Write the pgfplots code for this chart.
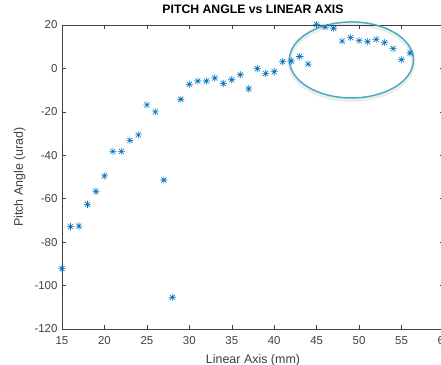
\documentclass[border=0pt]{standalone}
\usepackage{pgfplots}
\pgfplotsset{compat=1.18}
\usepackage{fontspec}
\setmainfont{Liberation Sans}
\definecolor{mblue}{RGB}{0,114,189}
\definecolor{axgray}{RGB}{64,64,64}
\definecolor{ell}{RGB}{75,172,198}
\pgfdeclareplotmark{mstar}{%
 \pgfpathmoveto{\pgfqpoint{-\pgfplotmarksize}{0pt}}\pgfpathlineto{\pgfqpoint{\pgfplotmarksize}{0pt}}%
 \pgfpathmoveto{\pgfqpoint{0pt}{-\pgfplotmarksize}}\pgfpathlineto{\pgfqpoint{0pt}{\pgfplotmarksize}}%
 \pgfpathmoveto{\pgfqpoint{-0.707\pgfplotmarksize}{-0.707\pgfplotmarksize}}\pgfpathlineto{\pgfqpoint{0.707\pgfplotmarksize}{0.707\pgfplotmarksize}}%
 \pgfpathmoveto{\pgfqpoint{-0.707\pgfplotmarksize}{0.707\pgfplotmarksize}}\pgfpathlineto{\pgfqpoint{0.707\pgfplotmarksize}{-0.707\pgfplotmarksize}}%
 \pgfusepathqstroke}
\begin{document}
\begin{tikzpicture}
\begin{axis}[
  name=ax,
  at={(0,0)}, anchor=south west,
  scale only axis,
  width=382bp, height=304bp,
  xmin=15, xmax=60, ymin=-120, ymax=20,
  xtick={15,20,...,60}, ytick={-120,-100,...,20},
  tick align=inside,
  major tick length=4bp,
  clip=false,
  axis line style={axgray, line width=0.5bp},
  every tick/.style={axgray, line width=0.5bp},
  tick label style={font=\fontsize{11.5}{13}\selectfont, text=axgray},
  /pgf/number format/assume math mode=true,
  yticklabel style={xshift=-1bp},
  xticklabel style={yshift=-4bp},
  title={PITCH ANGLE vs LINEAR AXIS},
  title style={font=\bfseries\fontsize{12.3}{14}\selectfont, at={(0.5,1)}, anchor=base, yshift=6bp},
  xlabel={Linear Axis (mm)},
  ylabel={Pitch Angle (urad)},
  label style={font=\fontsize{12.5}{14}\selectfont, text=axgray},
  xlabel style={at={(axis description cs:0.5,0)}, anchor=base, yshift=-34bp},
  ylabel style={at={(axis description cs:0,0.5)}, anchor=base, yshift=39bp},
]
\addplot[only marks, mark=mstar, mark size=3.6bp, mblue, line width=0.6bp] coordinates {
(15,-92.2) (16,-72.9) (17,-72.6) (18,-62.6) (19,-56.6) (20,-49.5)
(21,-38.2) (22,-38.2) (23,-33.1) (24,-30.6) (25,-16.8) (26,-20.0)
(27,-51.4) (28,-105.4) (29,-14.2) (30,-7.3) (31,-5.8) (32,-5.8)
(33,-4.4) (34,-6.9) (35,-5.2) (36,-2.9) (37,-9.4) (38,-0.1)
(39,-2.3) (40,-1.5) (41,3.1) (42,3.4) (43,5.5) (44,2.0)
(45,20.2) (46,19.1) (47,18.5) (48,12.6) (49,14.2) (50,12.8)
(51,12.3) (52,13.4) (53,11.9) (54,9.1) (55,4.0) (56,7.1)
};
\draw[black, opacity=0.07, line width=4bp] ([yshift=-2bp]axis cs:49.1,3.9) ellipse [x radius=62bp, y radius=38bp];
\draw[ell, line width=1.5bp] (axis cs:49.1,3.9) ellipse [x radius=62bp, y radius=38bp];
\end{axis}
\pgfresetboundingbox
\useasboundingbox ([shift={(-62bp,-36bp)}]ax.south west) rectangle ([shift={(379bp,329bp)}]ax.south west);
\end{tikzpicture}
\end{document}
